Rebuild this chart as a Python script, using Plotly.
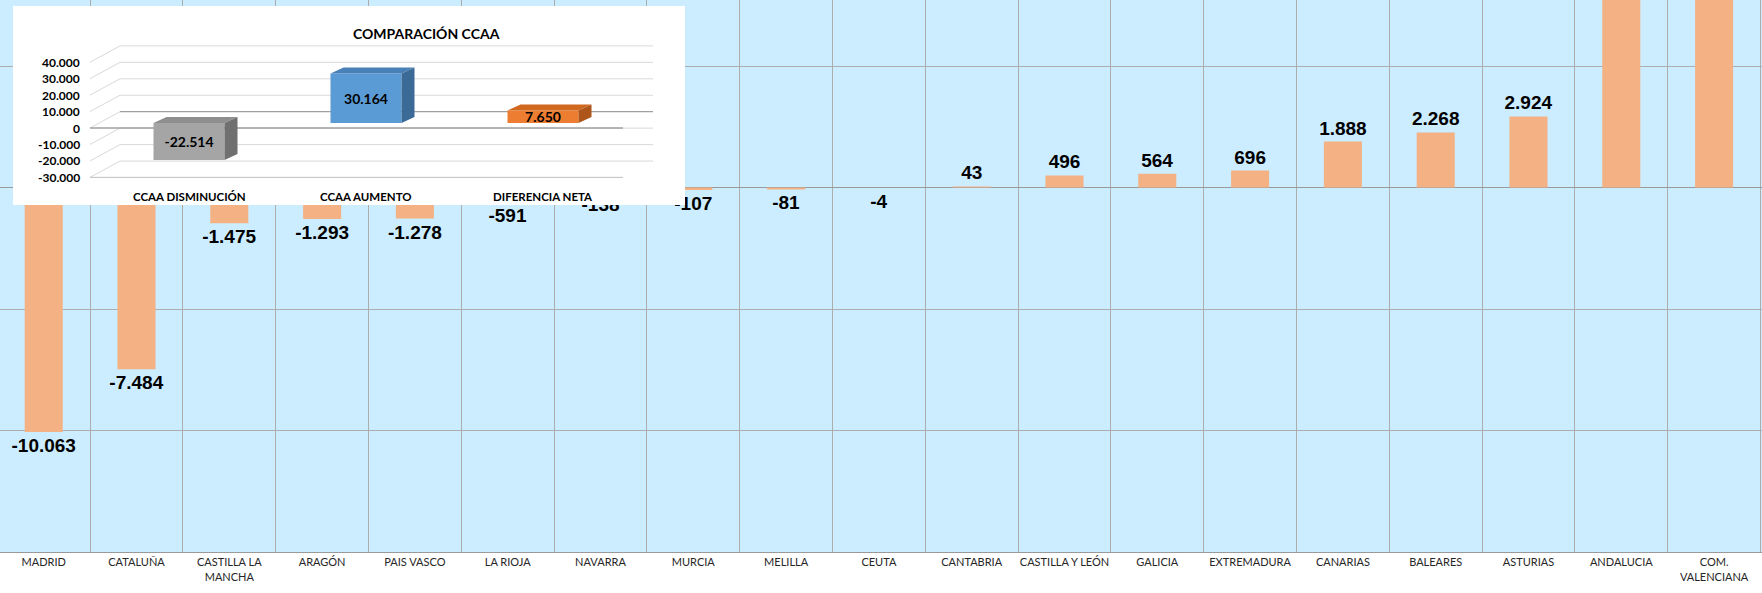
import plotly.graph_objects as go

# ---------------- data ----------------
categories = ["MADRID", "CATALUÑA", "CASTILLA LA<br>MANCHA", "ARAGÓN", "PAIS VASCO",
              "LA RIOJA", "NAVARRA", "MURCIA", "MELILLA", "CEUTA", "CANTABRIA",
              "CASTILLA Y LEÓN", "GALICIA", "EXTREMADURA", "CANARIAS", "BALEARES",
              "ASTURIAS", "ANDALUCIA", "COM.<br>VALENCIANA"]
values = [-10063, -7484, -1475, -1293, -1278, -591, -138, -107, -81, -4,
          43, 496, 564, 696, 1888, 2268, 2924, 10215, 11070]

inset_categories = ["CCAA DISMINUCIÓN", "CCAA AUMENTO", "DIFERENCIA NETA"]
inset_values = [-22514, 30164, 7650]
inset_ticks = [-30000, -20000, -10000, 0, 10000, 20000, 30000, 40000]
inset_title = "COMPARACIÓN CCAA"

inset_front = ["#A5A5A5", "#5B9BD5", "#ED7D31"]
inset_top = ["#8E8E8E", "#4A80B8", "#D0691F"]
inset_side = ["#707070", "#3C6A97", "#AE5519"]


def fmt(v):
    return f"{v:,}".replace(",", ".")


# ---------------- geometry ----------------
W, H = 1762, 593
ML, MR, MT, MB = 0, 0, 0, 41
PW, PH = W - ML - MR, H - MT - MB


def paper_x(px):
    return (px - ML) / PW


def paper_y(py):
    return (PH - (py - MT)) / PH


CAT_W = 92.8
RIGHT_PX = 1760.5
x_right = 18.5 + (PW - RIGHT_PX) / CAT_W
x_range = [x_right - PW / CAT_W, x_right]
Y_BOTTOM = -15000
PX_PER_UNIT = 121.5 / 5000
y_range = [Y_BOTTOM, Y_BOTTOM + PH / PX_PER_UNIT]

# inset box and its mapping
BX0, BX1, BY0, BY1 = 13, 685, 6, 205
C0, S = 189, 177.0          # px of first inset category, px per category
Z, K = 128, 16.45           # py of zero, px per 10000
x2_range = [(BX0 - C0) / S, (BX1 - C0) / S]
y2_range = [(Z - BY1) / K * 10000, (Z - BY0) / K * 10000]

fig = go.Figure()

# ---------------- main bars ----------------
xpos = list(range(len(categories)))
fig.add_trace(go.Bar(
    x=xpos, y=values, width=0.41,
    marker=dict(color="#F4B183", line=dict(width=0)),
    text=[fmt(v) for v in values], textposition="outside",
    textfont=dict(family="Liberation Sans, Arial", size=19, color="black", weight="bold"),
    cliponaxis=True, constraintext="none",
    xaxis="x", yaxis="y", showlegend=False, hoverinfo="skip"))

# ---------------- inset gridlines (x2y2) ----------------
xL = (90 - C0) / S
gdx = 30 / S
gdy = 16.3 / K * 10000
xRb = (653 - C0) / S
xRf = xRb - gdx
lx, ly = [], []
for v in inset_ticks:
    if v == 0:
        lx += [xL, xL + gdx, None]
        ly += [v, v + gdy, None]
    else:
        lx += [xL, xL + gdx, xRb, None]
        ly += [v, v + gdy, v + gdy, None]
fig.add_trace(go.Scatter(x=lx, y=ly, mode="lines", line=dict(color="#D9D9D9", width=1),
                         xaxis="x2", yaxis="y2", showlegend=False, hoverinfo="skip"))
bot = inset_ticks[0]
fig.add_trace(go.Scatter(x=[xL, xRf], y=[bot, bot], mode="lines",
                         line=dict(color="#BFBFBF", width=1),
                         xaxis="x2", yaxis="y2", showlegend=False, hoverinfo="skip"))
fig.add_trace(go.Scatter(x=[xL + gdx, xRb, None, xL, xRf], y=[gdy, gdy, None, 0, 0], mode="lines",
                         line=dict(color="#A0A0A0", width=1.3),
                         xaxis="x2", yaxis="y2", showlegend=False, hoverinfo="skip"))

# ---------------- inset 3D bars (x3y3 overlay) ----------------
BASE = 5 / K * 10000
BW = 71 / S
bdx = 13 / S
bdy = 6 / K * 10000
ipos = list(range(len(inset_categories)))
fig.add_trace(go.Bar(
    x=ipos, y=inset_values, base=[BASE] * len(inset_values), width=BW,
    marker=dict(color=inset_front, line=dict(width=0)),
    text=[fmt(v) for v in inset_values], textposition="inside",
    insidetextanchor="middle", textangle=0, constraintext="none",
    textfont=dict(family="Lato", size=14, color="black", weight="bold"),
    xaxis="x3", yaxis="y3", showlegend=False, hoverinfo="skip"))
for i, v in enumerate(inset_values):
    top = BASE + max(v, 0)
    bt = BASE + min(v, 0)
    xl, xr = ipos[i] - BW / 2, ipos[i] + BW / 2
    fig.add_trace(go.Scatter(
        x=[xl, xr, xr + bdx, xl + bdx, xl], y=[top, top, top + bdy, top + bdy, top],
        mode="lines", fill="toself", fillcolor=inset_top[i], line=dict(width=0),
        xaxis="x3", yaxis="y3", showlegend=False, hoverinfo="skip"))
    fig.add_trace(go.Scatter(
        x=[xr, xr + bdx, xr + bdx, xr, xr], y=[bt, bt + bdy, top + bdy, top, bt],
        mode="lines", fill="toself", fillcolor=inset_side[i], line=dict(width=0),
        xaxis="x3", yaxis="y3", showlegend=False, hoverinfo="skip"))

# ---------------- annotations ----------------
ann = [dict(text=f"<b>{inset_title}</b>", x=paper_x(351), y=paper_y(23), xref="paper", yref="paper",
            showarrow=False, font=dict(family="Lato", size=14, color="black"))]
for v in inset_ticks:
    ann.append(dict(text=f"<b>{fmt(v)}</b>", x=(82 - C0) / S, y=v, xref="x2", yref="y2",
                    xanchor="right", showarrow=False,
                    font=dict(family="Lato", size=12, color="black")))
for i, c in enumerate(inset_categories):
    ann.append(dict(text=f"<b>{c}</b>", x=ipos[i], y=(Z - 196) / K * 10000, xref="x2", yref="y2",
                    showarrow=False, font=dict(family="Lato", size=11.5, color="black")))

GRID = "#ADADAD"
fig.update_layout(
    width=W, height=H,
    margin=dict(l=ML, r=MR, t=MT, b=MB, pad=0),
    paper_bgcolor="white", plot_bgcolor="white",
    showlegend=False,
    xaxis=dict(range=x_range, domain=[0, 1], tickmode="array", tickvals=xpos, ticktext=categories,
               showgrid=False, zeroline=False, showline=True, linecolor="#9A9A9A", linewidth=1,
               ticks="", tickfont=dict(family="Lato", size=11, color="#262626"),
               minor=dict(tickmode="array", tickvals=[i + 0.5 for i in range(-1, len(categories))],
                          showgrid=True, gridcolor=GRID, gridwidth=1, ticks=""),
               fixedrange=True),
    yaxis=dict(range=y_range, domain=[0, 1], tick0=0, dtick=5000, showgrid=True, gridcolor=GRID,
               gridwidth=1, zeroline=True, zerolinecolor="#9A9A9A", zerolinewidth=1.5,
               showticklabels=False, ticks="", fixedrange=True),
    xaxis2=dict(domain=[paper_x(BX0), paper_x(BX1)], range=x2_range, visible=False, anchor="y2",
                fixedrange=True),
    yaxis2=dict(domain=[paper_y(BY1), paper_y(BY0)], range=y2_range, visible=False, anchor="x2",
                fixedrange=True),
    xaxis3=dict(overlaying="x2", range=x2_range, visible=False, anchor="y3", fixedrange=True),
    yaxis3=dict(overlaying="y2", range=y2_range, visible=False, anchor="x3", fixedrange=True),
    shapes=[dict(type="rect", xref="paper", yref="paper", x0=0, x1=1, y0=0, y1=1,
                 fillcolor="#CCECFF", line=dict(width=0), layer="below")],
    annotations=ann,
    hovermode=False,
)

fig.write_html("out.html", config={"displayModeBar": False, "staticPlot": True},
               post_script="document.body.style.margin='0px';document.body.style.overflow='hidden';")
